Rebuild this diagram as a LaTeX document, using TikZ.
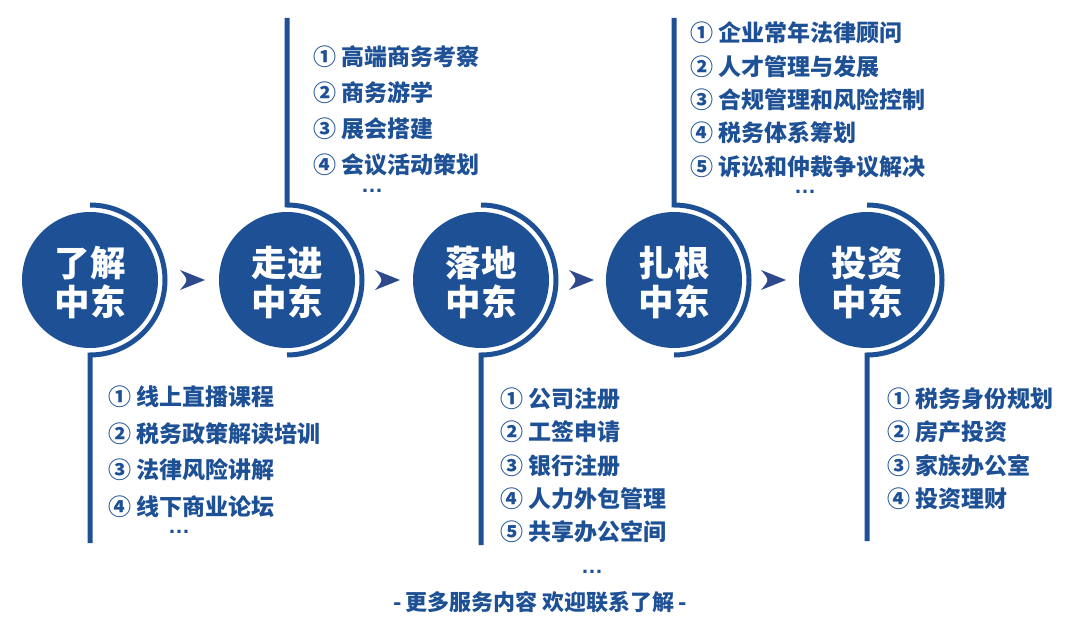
\documentclass[tikz,border=0pt]{standalone}
\usepackage{fontspec}
\usetikzlibrary{calc}
\newfontfamily\cjk{Noto Sans CJK SC}
\newfontfamily\lat{Liberation Sans}
\definecolor{mainblue}{HTML}{1D5095}
\definecolor{arrblue}{HTML}{2E4A8C}
\begin{document}
\begin{tikzpicture}[x=1pt,y=1pt,
  circ/.style={circle, fill=mainblue, minimum size=136pt, inner sep=0},
  ctext/.style={text=white, align=center, inner sep=0, font=\cjk\bfseries\fontsize{35.5}{39}\selectfont},
  ring/.style={draw=mainblue, line width=5pt},
  item/.style={anchor=base west, inner sep=0, yshift=-8.8pt, text=mainblue, font=\cjk\bfseries\fontsize{23}{27}\selectfont},
  more/.style={anchor=base, inner sep=0, yshift=-1.8pt, text height=4pt, text depth=0pt, text=mainblue, font=\lat\bfseries\fontsize{22}{26}\selectfont},
  foot/.style={inner sep=0, text=mainblue, font=\cjk\bfseries\fontsize{22}{26}\selectfont},
  arr/.pic={\fill[arrblue] (12.5,0) -- (-12.5,10) .. controls (-4,0) .. (-12.5,-10) -- cycle;}
]
\useasboundingbox (0,0) rectangle (1080,-631);

% circles
\node[circ] (c1) at (90,-280) {};
\node[circ] (c2) at (287,-280) {};
\node[circ] (c3) at (481,-280) {};
\node[circ] (c4) at (674,-280) {};
\node[circ] (c5) at (867,-280) {};
\node[ctext] (t1) at (90,-282.5) {了解\\中东};
\node[ctext] (t2) at (287,-282.5) {走进\\中东};
\node[ctext] (t3) at (481,-282.5) {落地\\中东};
\node[ctext] (t4) at (674,-282.5) {扎根\\中东};
\node[ctext] (t5) at (867,-282.5) {投资\\中东};

% line end points
\coordinate (e1) at (90,-543);
\coordinate (e2) at (287,-18);
\coordinate (e3) at (481,-545);
\coordinate (e4) at (674,-18);
\coordinate (e5) at (867,-541);

% rings with leader lines
\draw[ring] ($(c1.center)+(0,75)$) arc[start angle=90,end angle=-90,radius=75] -- (e1);
\draw[ring] (e2) -- ($(c2.center)+(0,75)$) arc[start angle=90,end angle=-90,radius=75];
\draw[ring] ($(c3.center)+(0,75)$) arc[start angle=90,end angle=-90,radius=75] -- (e3);
\draw[ring] (e4) -- ($(c4.center)+(0,75)$) arc[start angle=90,end angle=-90,radius=75];
\draw[ring] ($(c5.center)+(0,75)$) arc[start angle=90,end angle=-90,radius=75] -- (e5);

% arrows
\pic at (192.5,-280) {arr};
\pic at (387.5,-280) {arr};
\pic at (581.5,-280) {arr};
\pic at (773.5,-280) {arr};

% list for c2 (top)
\node[item] (a1) at (313,-57) {① 高端商务考察};
\node[item] (a2) at (313,-93) {② 商务游学};
\node[item] (a3) at (313,-129) {③ 展会搭建};
\node[item] (a4) at (313,-165) {④ 会议活动策划};
\node[more] (a5) at (372,-191) {…};

% list for c1 (bottom)
\node[item] (b1) at (108,-397) {① 线上直播课程};
\node[item] (b2) at (108,-434) {② 税务政策解读培训};
\node[item] (b3) at (108,-470) {③ 法律风险讲解};
\node[item] (b4) at (108,-507) {④ 线下商业论坛};
\node[more] (b5) at (179,-532) {…};

% list for c3 (bottom)
\node[item] (d1) at (500,-399) {① 公司注册};
\node[item] (d2) at (500,-432) {② 工签申请};
\node[item] (d3) at (500,-466) {③ 银行注册};
\node[item] (d4) at (500,-499) {④ 人力外包管理};
\node[item] (d5) at (500,-532) {⑤ 共享办公空间};
\node[more] (d6) at (592,-572) {…};

% list for c4 (top)
\node[item] (f1) at (690,-33) {① 企业常年法律顾问};
\node[item] (f2) at (690,-67) {② 人才管理与发展};
\node[item] (f3) at (690,-100) {③ 合规管理和风险控制};
\node[item] (f4) at (690,-133) {④ 税务体系筹划};
\node[item] (f5) at (690,-167) {⑤ 诉讼和仲裁争议解决};
\node[more] (f6) at (805,-192) {…};

% list for c5 (bottom)
\node[item] (g1) at (887,-399) {① 税务身份规划};
\node[item] (g2) at (887,-432) {② 房产投资};
\node[item] (g3) at (887,-466) {③ 家族办公室};
\node[item] (g4) at (887,-499) {④ 投资理财};

% footer
\node[foot] (ft) at (540,-602) {-\,更多服务内容 欢迎联系了解\,-};
\end{tikzpicture}
\end{document}
